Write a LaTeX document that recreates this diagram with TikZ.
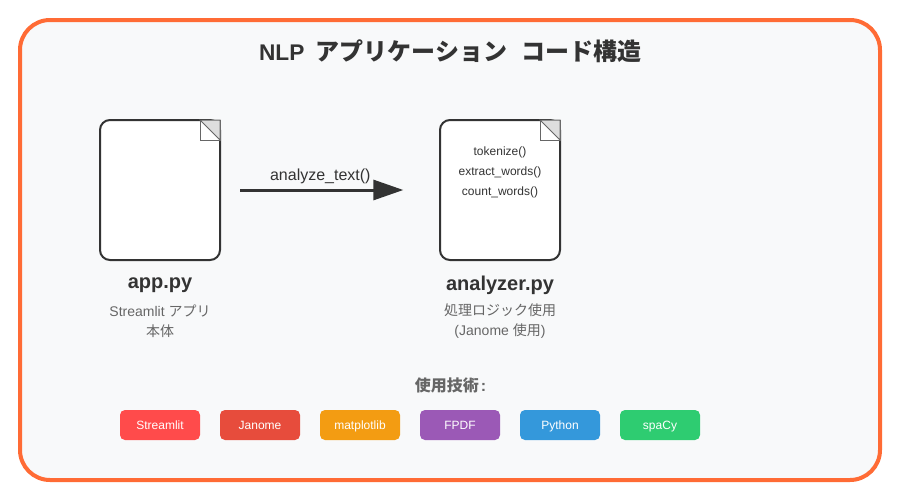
\documentclass[tikz,border=0pt]{standalone}
\usepackage{fontspec}
\usepackage{xcolor}
\usetikzlibrary{arrows.meta,positioning}
\setmainfont{Liberation Sans}
\newfontfamily\cjk{Noto Sans CJK JP}
\definecolor{framecol}{HTML}{FF6B35}
\definecolor{panelcol}{HTML}{F8F9FA}
\definecolor{inkcol}{HTML}{333333}
\definecolor{subcol}{HTML}{666666}
\definecolor{foldcol}{HTML}{DDDDDD}
\definecolor{streamlitcol}{HTML}{FF4B4B}
\definecolor{janomecol}{HTML}{E74C3C}
\definecolor{matplotlibcol}{HTML}{F39C12}
\definecolor{fpdfcol}{HTML}{9B59B6}
\definecolor{pythoncol}{HTML}{3498DB}
\definecolor{spacycol}{HTML}{2ECC71}
\tikzset{
  filebox/.style={draw=inkcol,line width=1.5pt,fill=white,rounded corners=7.5pt,minimum width=90pt,minimum height=105pt,inner sep=0pt,outer sep=0pt},
  badge/.style={rounded corners=3.75pt,minimum width=60pt,minimum height=22.5pt,inner sep=0pt,outer sep=0pt,text=white,text height=7.7pt,text depth=0.5pt,font=\fontsize{9pt}{10pt}\selectfont},
  filename/.style={text=inkcol,font=\fontsize{15pt}{18pt}\selectfont\bfseries,inner sep=0pt},
  filenote/.style={text=subcol,align=center,inner sep=0pt,font=\fontsize{10.5pt}{15pt}\selectfont},
  funcname/.style={text=inkcol,inner sep=0pt,font=\fontsize{9pt}{10pt}\selectfont}
}
\begin{document}
\begin{tikzpicture}[x=0.75pt,y=-0.75pt]
\useasboundingbox (0,0) rectangle (900,500);
\fill[white] (0,0) rectangle (900,500);
\draw[framecol,line width=3pt,fill=panelcol,rounded corners=22.5pt] (20,20) rectangle (880,480);
\node[text=inkcol,inner sep=0pt] (title) at (450.5,51) {\fontsize{18pt}{22pt}\selectfont\bfseries{\fontsize{17pt}{22pt}\selectfont NLP}\hspace{8.5pt}{\cjk アプリケーション\hspace{11pt}コード構造}};
% source files
\node[filebox] (appfile) at (160,190) {};
\node[filebox] (analyzerfile) at (500,190) {};
\foreach \f/\cx in {app/220,analyzer/560} {
  \draw[subcol,line width=0.75pt,fill=white] (\cx-20,120) rectangle (\cx,140);
  \draw[subcol,line width=0.75pt,fill=foldcol] (\cx-20,120) -- (\cx,120) -- (\cx,140) -- cycle;
}
\node[filename] (appname) at (160,285.5) {app.py};
\node[filenote] (appnote) at (160,321) {Streamlit {\cjk アプリ}\\{\cjk 本体}};
\node[filename] (analyzername) at (500,285.5) {analyzer.py};
\node[filenote] (analyzernote) at (500,321) {{\cjk 処理ロジック使用}\\(Janome {\cjk 使用})};
\node[funcname] (tokenize) at (500,152) {tokenize()};
\node[funcname] (extract) at (500,172) {extract\_words()};
\node[funcname] (count) at (500,192) {count\_words()};
% call between the files
\draw[inkcol,line width=2.25pt,-{Triangle[length=22.5pt,width=15pt]}] ([xshift=15pt]appfile.east) -- ([xshift=-27.5pt]analyzerfile.west) node[pos=0.5,above=3.75pt,xshift=-1pt,inner sep=0pt,text=inkcol,font=\fontsize{12pt}{14pt}\selectfont] (calllabel) {analyze\_text()};
% tools
\node[text=subcol,inner sep=0pt] (toolhead) at (450.5,385) {\fontsize{12pt}{15pt}\selectfont\bfseries {\cjk 使用技術}\hspace{1.5pt}:};
\foreach \n/\cx/\c/\t in {a/160/streamlitcol/Streamlit,b/260/janomecol/Janome,c/360/matplotlibcol/matplotlib,d/460/fpdfcol/FPDF,e/560/pythoncol/Python,f/660/spacycol/spaCy} {
  \node[badge,fill=\c] (badge\n) at (\cx,425) {\t};
}
\end{tikzpicture}
\end{document}
